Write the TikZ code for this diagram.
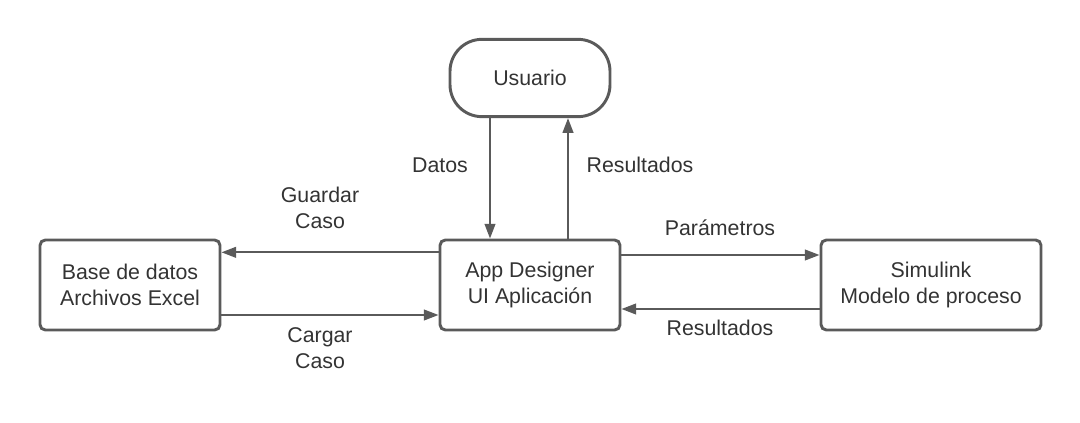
\documentclass[tikz,border=0pt]{standalone}
\usepackage{fontspec}
\setmainfont{Liberation Sans}
\usepackage{xcolor}
\usetikzlibrary{positioning,calc,arrows.meta}
\definecolor{linegray}{HTML}{5A5A5A}
\definecolor{textgray}{HTML}{333333}

\tikzset{
    block/.style={draw=linegray, line width=2.2pt, rounded corners=4pt, align=center,
        text=textgray, minimum width=135pt, minimum height=67.5pt, inner sep=0pt},
    terminal/.style={draw=linegray, line width=2.2pt, rounded corners=24pt, align=center,
        text=textgray, minimum width=120pt, minimum height=58pt, inner sep=0pt},
    flow/.style={draw=linegray, line width=1.5pt, -{Triangle[length=11pt,width=8pt]}},
    lbl/.style={text=textgray, align=center, inner sep=0pt}
}

\begin{document}
\begin{tikzpicture}[x=0.75pt,y=-0.75pt,font=\fontsize{16}{20}\selectfont]
    \useasboundingbox (0,0) rectangle (1080,423);

    % Blocks
    \node[terminal] (user) at (530,78) {Usuario};
    \node[block] (app) at (530,285) {App Designer\\UI Aplicación};
    \node[block] (base) at (130,285) {Base de datos\\Archivos Excel};
    \node[block, minimum width=165pt] (sim) at (931,285) {Simulink\\Modelo de proceso};

    % Usuario <-> App
    \draw[flow] ([xshift=-30pt]user.south) -- ([xshift=-30pt]app.north);
    \draw[flow] ([xshift=28.5pt]app.north) -- ([xshift=28.5pt]user.south);
    \node[lbl] (datos) at (440,165) {Datos};
    \node[lbl] (res1) at (640,165) {Resultados};

    % Base <-> App
    \draw[flow] ([yshift=24.5pt]app.west) -- ([yshift=24.5pt]base.east);
    \draw[flow] ([yshift=-22.5pt]base.east) -- ([yshift=-22.5pt]app.west);
    \node[lbl, font=\fontsize{16}{19}\selectfont] (guardar) at (320,208) {Guardar\\Caso};
    \node[lbl, font=\fontsize{16}{19}\selectfont] (cargar) at (320,348) {Cargar\\Caso};

    % App <-> Simulink
    \draw[flow] ([yshift=22.5pt]app.east) -- ([yshift=22.5pt]sim.west);
    \draw[flow] ([yshift=-18pt]sim.west) -- ([yshift=-18pt]app.east);
    \node[lbl] (param) at (720,228) {Parámetros};
    \node[lbl] (res2) at (720,328) {Resultados};

\end{tikzpicture}
\end{document}
